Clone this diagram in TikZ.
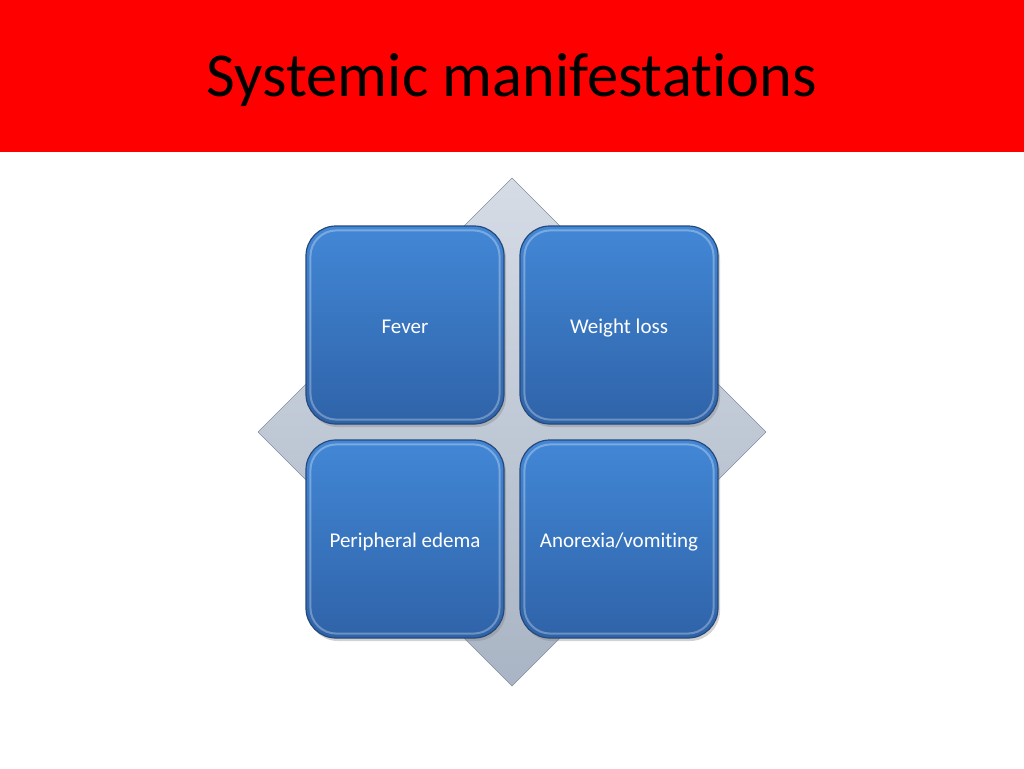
\documentclass[tikz,border=0pt]{standalone}
\usepackage{fontspec}
\setmainfont[Ligatures=NoCommon]{Carlito}
\usetikzlibrary{shadows}
\definecolor{banner}{HTML}{FF0000}
\definecolor{boxtop}{HTML}{4287D6}
\definecolor{boxbot}{HTML}{2F63A8}
\definecolor{boxline}{HTML}{27497A}
\definecolor{diatop}{HTML}{D5DCE6}
\definecolor{diabot}{HTML}{A9B4C4}
\tikzset{
  tile/.style={rounded corners=30pt, minimum width=198pt, minimum height=198pt,
    top color=boxtop, bottom color=boxbot, draw=boxline, line width=1.2pt,
    text=white, font=\fontsize{21}{24}\selectfont, text height=18pt, text depth=2pt,
    drop shadow={shadow xshift=2pt, shadow yshift=-3pt, opacity=0.35}},
  bevel/.style={draw=white, draw opacity=0.3, line width=2pt, rounded corners=26pt},
}
\begin{document}
\begin{tikzpicture}[x=1pt,y=-1pt]
\useasboundingbox (0,0) rectangle (1024,768);
\fill[white] (0,0) rectangle (1024,768);
\fill[banner] (0,0) rectangle (1024,152);
\node[font=\fontsize{62.5}{70}\selectfont, text=black] (title) at (512,80) {Systemic manifestations};
\shade[top color=diatop, bottom color=diabot, draw=diabot!80!black, line width=0.6pt]
  (512,178) -- (766,432) -- (512,686) -- (258,432) -- cycle;
\node[tile] (fever) at (405,325) {Fever};
\node[tile] (weight) at (619,325) {Weight loss};
\node[tile] (edema) at (405,539) {Peripheral edema};
\node[tile] (anorexia) at (619,539) {Anorexia/vomiting};
\foreach \n in {fever,weight,edema,anorexia}{
  \draw[bevel] ([xshift=5pt,yshift=-5pt]\n.north west) rectangle ([xshift=-5pt,yshift=5pt]\n.south east);
}
\end{tikzpicture}
\end{document}
